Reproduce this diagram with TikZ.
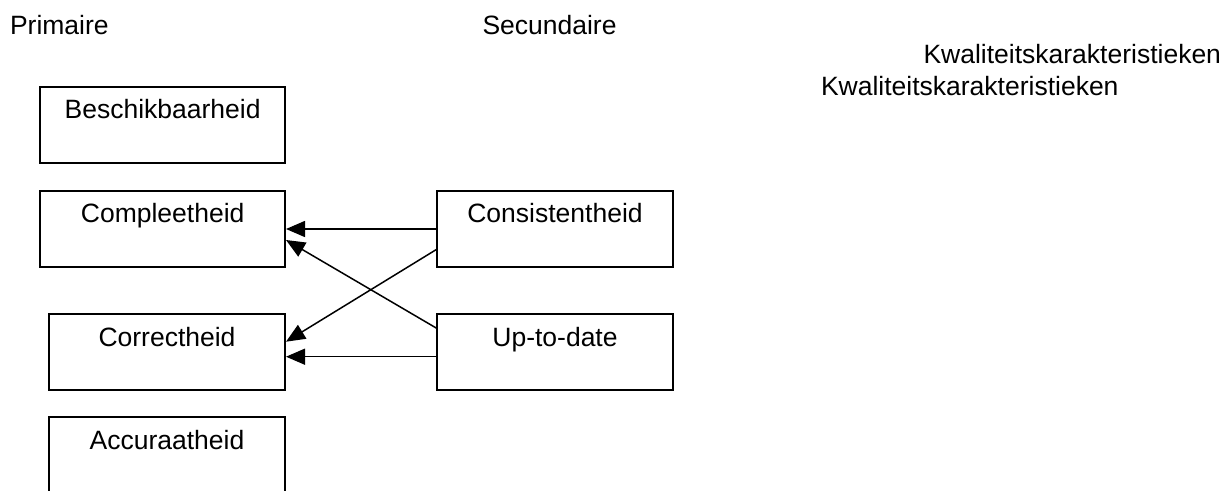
\documentclass[tikz,border=0pt]{standalone}
\usepackage{fontspec}
\setmainfont{Liberation Sans}
\usetikzlibrary{arrows.meta}
\tikzset{
  box/.style={draw=black, line width=1.8pt, fill=white, inner sep=0pt, outer sep=0pt,
              minimum height=76pt},
  boxtext/.style={anchor=base, inner sep=0pt, outer sep=0pt,
              font=\fontsize{26.5}{30}\selectfont},
  heading/.style={inner sep=0pt, outer sep=0pt, font=\fontsize{26.5}{30}\selectfont},
  link/.style={draw=black, line width=1.5pt, -{Triangle[length=19pt,width=16pt]}},
}
\begin{document}
\begin{tikzpicture}[x=1pt, y=-1pt]
  % page frame 1225 x 490, everything outside is cut away
  \clip (0,0) rectangle (1225,490);
  \fill[white] (0,0) rectangle (1225,490);

  % headings
  \node[heading, anchor=base west] (prim) at (10,34) {Primaire};
  \node[heading, anchor=base west] (sec) at (482.5,34) {Secundaire};
  \node[heading, anchor=base east] (kw1) at (1221,63.3) {Kwaliteitskarakteristieken};
  \node[heading, anchor=base west] (kw2) at (821,95) {Kwaliteitskarakteristieken};

  % primary characteristics
  \node[box, minimum width=244.7pt] (besch) at (162.65,125.3) {};
  \node[box, minimum width=244.7pt, minimum height=76.6pt] (compl) at (162.65,229) {};
  \node[box, minimum width=236pt] (corr) at (167,352) {};
  \node[box, minimum width=236pt] (accu) at (167,455.3) {};

  % secondary characteristics
  \node[box, minimum width=236.6pt, minimum height=76.6pt] (cons) at (555,229) {};
  \node[box, minimum width=236.6pt] (utd) at (555,352) {};

  % labels, top-aligned in their boxes
  \node[boxtext] (beschT) at ([yshift=-31pt]besch.north) {Beschikbaarheid};
  \node[boxtext] (complT) at ([yshift=-32pt]compl.north) {Compleetheid};
  \node[boxtext] (corrT) at ([yshift=-32pt]corr.north) {Correctheid};
  \node[boxtext] (accuT) at ([yshift=-31.7pt]accu.north) {Accuraatheid};
  \node[boxtext] (consT) at ([yshift=-32pt]cons.north) {Consistentheid};
  \node[boxtext] (utdT) at ([yshift=-32pt]utd.north) {Up-to-date};

  % dependencies
  \draw[link] (cons.west) -- ([xshift=1pt]compl.east);
  \draw[link] ([yshift=23.7pt]utd.west) -- ([xshift=1pt,yshift=-11pt]compl.east);
  \draw[link] ([yshift=-20.3pt]cons.west) -- ([xshift=1pt,yshift=10.3pt]corr.east);
  \draw[link] ([yshift=-4.7pt]utd.west) -- ([xshift=1pt,yshift=-4.7pt]corr.east);
\end{tikzpicture}
\end{document}
